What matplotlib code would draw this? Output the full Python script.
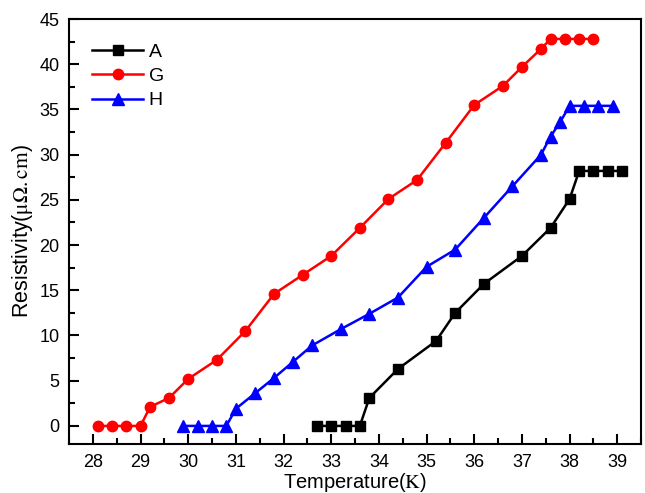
import numpy as np
import matplotlib.pyplot as plt
from matplotlib.ticker import MultipleLocator

plt.rcParams['font.family'] = ['Liberation Sans', 'DejaVu Sans']
plt.rcParams['mathtext.fontset'] = 'stix'

# resistivity vs temperature for the three samples
T_A = [32.7, 33.0, 33.3, 33.6, 33.8, 34.4, 35.2, 35.6, 36.2, 37.0, 37.6, 38.0, 38.2, 38.5, 38.8, 39.1]
R_A = [0, 0, 0, 0, 3.1, 6.3, 9.4, 12.5, 15.7, 18.8, 21.9, 25.1, 28.2, 28.2, 28.2, 28.2]

T_G = [28.1, 28.4, 28.7, 29.0, 29.2, 29.6, 30.0, 30.6, 31.2, 31.8, 32.4, 33.0, 33.6, 34.2,
       34.8, 35.4, 36.0, 36.6, 37.0, 37.4, 37.6, 37.9, 38.2, 38.5]
R_G = [0, 0, 0, 0, 2.1, 3.1, 5.2, 7.3, 10.5, 14.6, 16.7, 18.8, 21.9, 25.1,
       27.2, 31.3, 35.5, 37.6, 39.7, 41.7, 42.8, 42.8, 42.8, 42.8]

T_H = [29.9, 30.2, 30.5, 30.8, 31.0, 31.4, 31.8, 32.2, 32.6, 33.2, 33.8, 34.4, 35.0, 35.6,
       36.2, 36.8, 37.4, 37.6, 37.8, 38.0, 38.3, 38.6, 38.9]
R_H = [0, 0, 0, 0, 1.9, 3.6, 5.3, 7.1, 8.9, 10.7, 12.4, 14.2, 17.6, 19.5,
       23.0, 26.5, 30.0, 32.0, 33.6, 35.4, 35.4, 35.4, 35.4]

fig = plt.figure(figsize=(6.45, 4.93), dpi=100)
ax = fig.add_axes([0.107, 0.0994, 0.887, 0.862])

ax.plot(T_A, R_A, "-s", color="black", lw=1.8, ms=6.5, label="A")
ax.plot(T_G, R_G, "-o", color="red", lw=1.8, ms=7.5, label="G")
ax.plot(T_H, R_H, "-^", color="blue", lw=1.8, ms=8, label="H")

ax.set_xlim(27.5, 39.5)
ax.set_ylim(-2, 45)
ax.xaxis.set_major_locator(MultipleLocator(1))
ax.xaxis.set_minor_locator(MultipleLocator(0.5))
ax.yaxis.set_major_locator(MultipleLocator(5))
ax.yaxis.set_minor_locator(MultipleLocator(2.5))
ax.tick_params(which="both", direction="in", top=False, right=False, labelsize=13, width=1.5)
ax.tick_params(which="major", length=7, pad=7)
ax.tick_params(which="minor", length=4)
for s in ax.spines.values():
    s.set_linewidth(1.5)

ax.set_xlabel(r"Temperature($\mathrm{K}$)", fontsize=14.5, labelpad=0)
ax.set_ylabel(r"Resistivity($\mathrm{\mu\Omega.cm}$)", fontsize=15.5, labelpad=3)

ax.legend(loc="upper left", bbox_to_anchor=(0.01, 0.985), frameon=False, fontsize=14,
          handlelength=2.6, labelspacing=0.35, handletextpad=0.3)

plt.savefig("out.png", dpi=100)
